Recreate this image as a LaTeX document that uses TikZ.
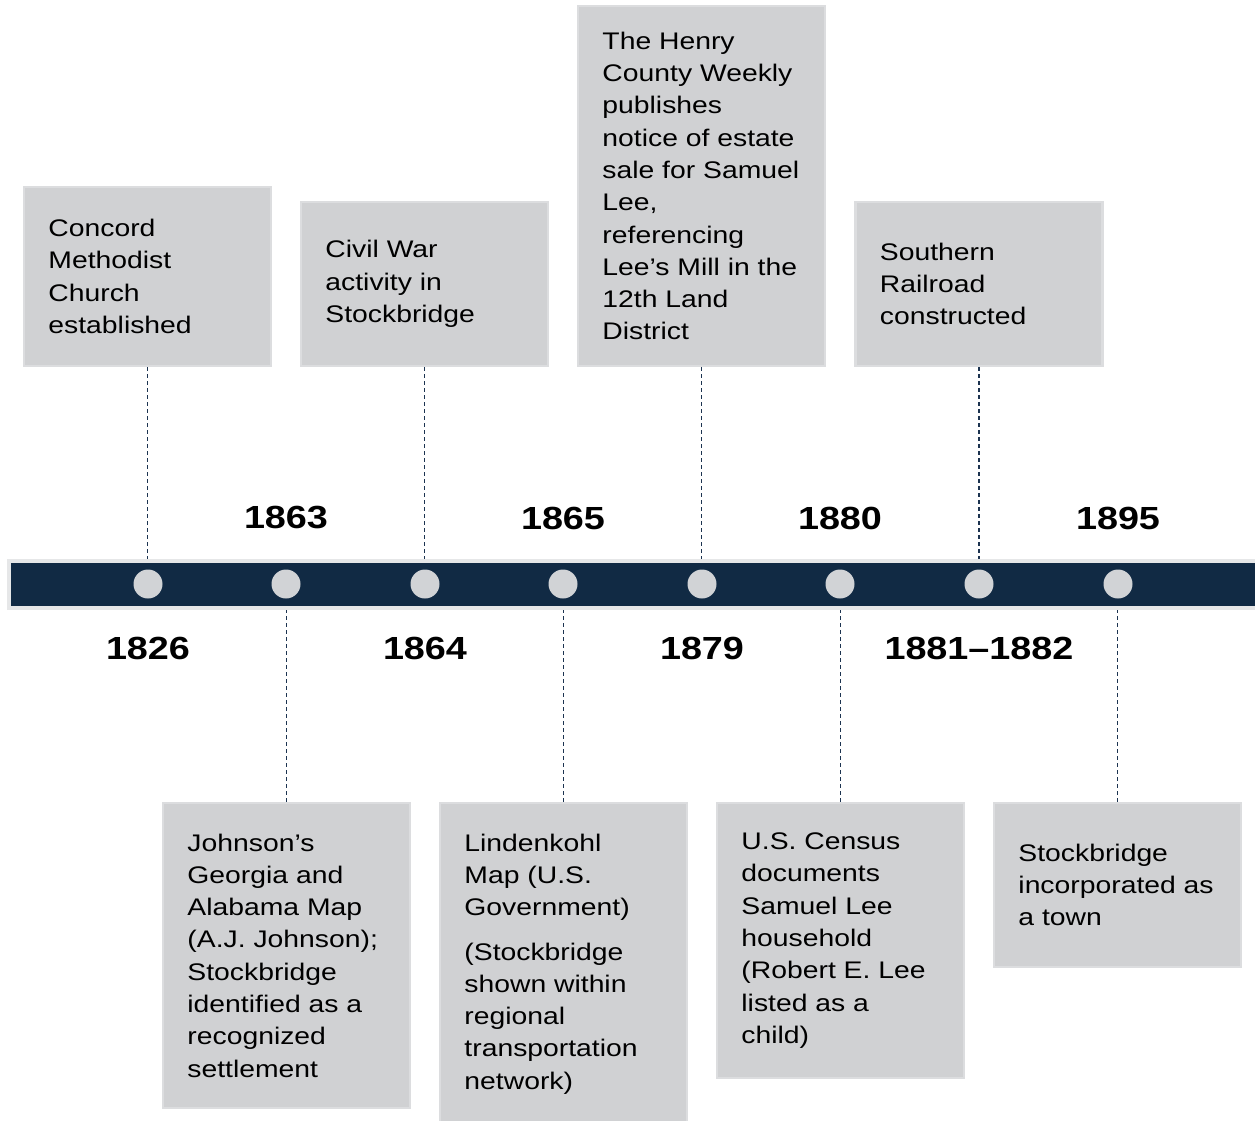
\documentclass[tikz,border=0pt]{standalone}
\usepackage{fontspec}
\setmainfont{Liberation Sans}[FakeStretch=1.18]
\definecolor{navy}{HTML}{112A44}
\definecolor{bargray}{HTML}{E6E7E8}
\definecolor{boxfill}{HTML}{D0D1D3}
\definecolor{boxedge}{HTML}{DCDDDF}
\definecolor{dotgray}{HTML}{D1D3D6}
\definecolor{linkblue}{HTML}{1C3350}
\begin{document}
\begin{tikzpicture}[x=1pt,y=-1pt,
  eventbox/.style={draw=boxedge,line width=2.5pt,fill=boxfill,
    minimum width=247pt,inner sep=0pt},
  eventtext/.style={anchor=west,align=left,inner sep=0pt,
    font=\fontsize{24}{32.3}\selectfont},
  year/.style={font=\fontsize{32}{38}\selectfont\bfseries,inner sep=0pt},
  dot/.style={circle,fill=dotgray,minimum size=29pt,inner sep=0pt},
  link/.style={draw=linkblue,line width=1.2pt,dash pattern=on 4pt off 3pt}]
\useasboundingbox (0,0) rectangle (1255,1121);

% timeline bar
\node[draw=bargray,line width=4pt,fill=navy,minimum width=1253pt,
  minimum height=47pt,inner sep=0pt] (bar) at (635.5,584.5) {};

% markers on the bar
\foreach \n/\x in {d1/148,d2/286,d3/425,d4/563,d5/702,d6/840,d7/979,d8/1118}
  \node[dot] (\n) at (\x,584) {};

% events above the bar
\node[eventbox,minimum height=179pt] (b1) at (147.5,276.5) {};
\node[eventtext] (t1) at ([xshift=25.5pt]b1.west)
  {Concord\\Methodist\\Church\\established};
\node[eventbox,minimum height=164pt] (b2) at (424.5,284) {};
\node[eventtext] (t2) at ([xshift=25.5pt]b2.west)
  {Civil War\\activity in\\Stockbridge};
\node[eventbox,minimum height=360pt] (b3) at (701.5,186) {};
\node[eventtext] (t3) at ([xshift=25.5pt]b3.west)
  {The Henry\\County Weekly\\publishes\\notice of estate\\sale for Samuel\\Lee,\\referencing\\Lee’s Mill in the\\12th Land\\District};
\node[eventbox,minimum height=164pt] (b4) at (979,284) {};
\node[eventtext] (t4) at ([xshift=25.5pt]b4.west)
  {Southern\\Railroad\\constructed};

% events below the bar
\node[eventbox,minimum height=305pt] (c1) at (286.5,955.5) {};
\node[eventtext] (s1) at ([xshift=25.5pt]c1.west)
  {Johnson’s\\Georgia and\\Alabama Map\\(A.J. Johnson);\\Stockbridge\\identified as a\\recognized\\settlement};
\node[eventbox,minimum height=320pt] (c2) at (563.5,963) {};
\node[eventtext] (s2) at ([xshift=25.5pt,yshift=-1pt]c2.west)
  {Lindenkohl\\Map (U.S.\\Government)\\[12pt](Stockbridge\\shown within\\regional\\transportation\\network)};
\node[eventbox,minimum height=275pt] (c3) at (840.5,940.5) {};
\node[eventtext] (s3) at ([xshift=25.5pt]c3.west)
  {U.S. Census\\documents\\Samuel Lee\\household\\(Robert E. Lee\\listed as a\\child)};
\node[eventbox,minimum height=164pt] (c4) at (1117.5,885) {};
\node[eventtext] (s4) at ([xshift=25.5pt]c4.west)
  {Stockbridge\\incorporated as\\a town};

% connectors
\foreach \b in {b1,b2,b3,b4}
  \draw[link] (\b.south) -- (\b.south |- bar.north);
\foreach \c in {c1,c2,c3,c4}
  \draw[link] (\c.north) -- (\c.north |- bar.south);

% years
\node[year] (y1863) at (286,518) {1863};
\node[year] (y1865) at (563,518) {1865};
\node[year] (y1880) at (840,518) {1880};
\node[year] (y1895) at (1118,518) {1895};
\node[year] (y1826) at (148,648) {1826};
\node[year] (y1864) at (425,648) {1864};
\node[year] (y1879) at (702,648) {1879};
\node[year] (y1881) at (979,648) {1881–1882};
\end{tikzpicture}
\end{document}
